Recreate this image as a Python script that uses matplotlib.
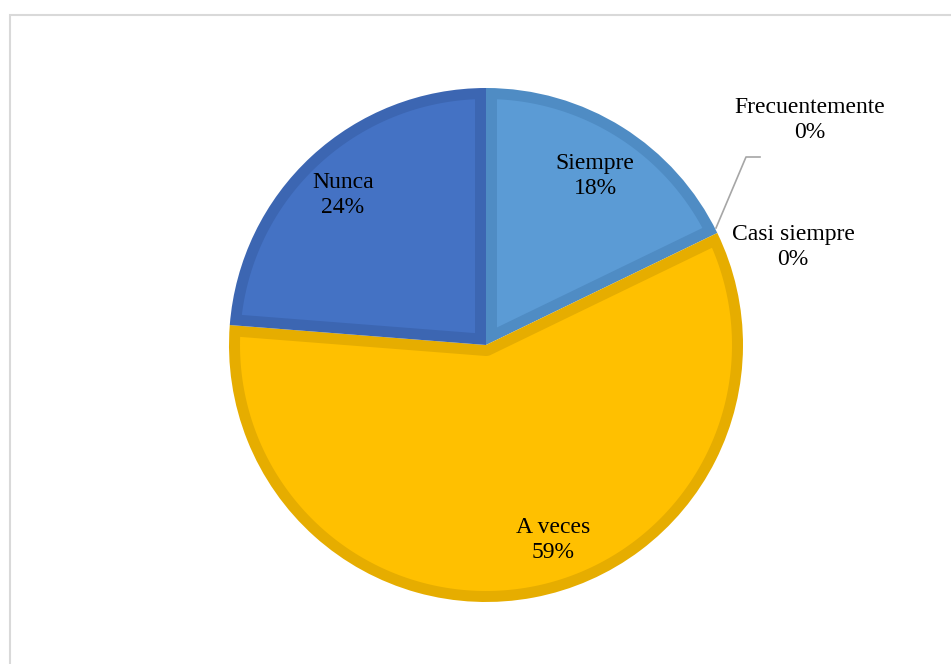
import numpy as np
import matplotlib.pyplot as plt
from matplotlib.patches import Rectangle, Polygon

categorias = ['Siempre', 'Frecuentemente', 'Casi siempre', 'A veces', 'Nunca']
porcentajes = [18, 0, 0, 59, 24]
colores = ['#5B9BD5', '#A5A5A5', '#ED7D31', '#FFC000', '#4472C4']
bordes = ['#4F8CC4', '#959595', '#D56F2A', '#E6AD00', '#3C66B2']

plt.rcParams['font.family'] = ['Liberation Serif', 'DejaVu Serif']

W, H = 951, 664
fig = plt.figure(figsize=(W / 100, H / 100), dpi=100, facecolor='white')
ax = fig.add_axes([0, 0, 1, 1])


def interior(t1, t2, c, r, d):
    """contorno de la cuna t1..t2 (grados, antihorario) encogida d px hacia dentro"""
    s = t2 - t1
    ri = r - d
    a = np.degrees(np.arcsin(d / ri))
    ang = np.radians(np.linspace(t1 + a, t2 - a, 200))
    pts = list(zip(c[0] + ri * np.cos(ang), c[1] + ri * np.sin(ang)))
    if s < 180:
        m = np.radians((t1 + t2) / 2)
        k = d / np.sin(np.radians(s / 2))
        pts.append((c[0] + k * np.cos(m), c[1] + k * np.sin(m)))
    else:
        ang = np.radians(np.linspace(t2 - 90, t1 + 90, 60))
        pts += list(zip(c[0] + d * np.cos(ang), c[1] + d * np.sin(ang)))
    return pts


# marco gris del area del grafico
ax.add_patch(Rectangle((10, -20), W + 20, H - 15 + 20, fill=False,
                       edgecolor='#D9D9D9', linewidth=1.5))

cx, cy, r = 486, H - 345, 257
grosor = 11
wedges, _ = ax.pie(porcentajes, colors=bordes, startangle=90,
                   counterclock=False, center=(cx, cy), radius=r,
                   wedgeprops=dict(linewidth=0), frame=True)
for w, fc in zip(wedges, colores):
    if w.theta2 - w.theta1 > 1:
        ax.add_patch(Polygon(interior(w.theta1, w.theta2, (cx, cy), r, grosor),
                             closed=True, facecolor=fc, edgecolor='none'))

ax.set_xlim(0, W)
ax.set_ylim(0, H)
ax.set_aspect('equal')
ax.axis('off')

fs = 17
etiquetas = {
    'Siempre': (595, 176),
    'Nunca': (343, 195),
    'A veces': (553, 540),
    'Casi siempre': (793, 247),
    'Frecuentemente': (810, 120),
}
for cat, p in zip(categorias, porcentajes):
    x, y = etiquetas[cat]
    ax.text(x, H - y, f'{cat}\n{p}%', ha='center', va='center', fontsize=fs,
            linespacing=1.3, color='black')

# linea guia de la etiqueta Frecuentemente
ax.plot([716, 746, 760], [H - 228, H - 157, H - 157], color='#A6A6A6', linewidth=1.2)

fig.savefig('out.png', dpi=100, facecolor='white')
